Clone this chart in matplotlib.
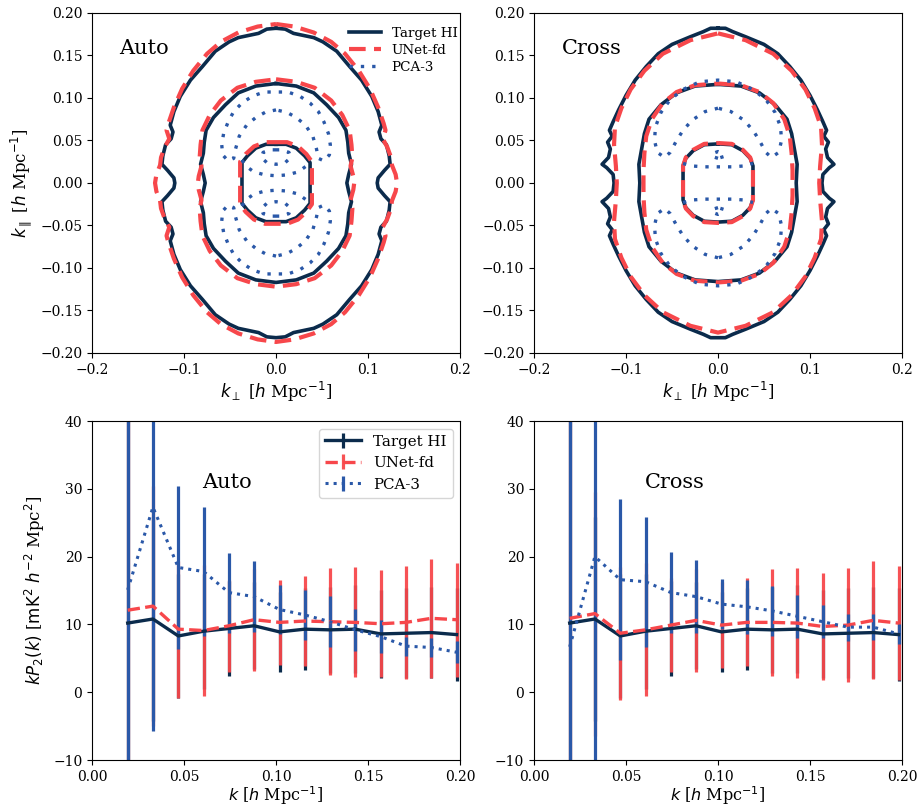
import matplotlib
matplotlib.use("Agg")
import matplotlib.pyplot as plt
import numpy as np

plt.rcParams["font.family"] = "serif"
plt.rcParams["font.serif"] = ["DejaVu Serif"]
plt.rcParams["mathtext.fontset"] = "dejavusans"

C_HI = "#0b2b4c"
C_UNET = "#f7474b"
C_PCA = "#2a58a8"

# ---- 2D power spectrum contours (first quadrant, mirrored when drawn) ----
# each list holds (k_perp, k_par) vertices, going from the k_par axis outwards
AUTO_HI = [
    [(0.000, 0.182), (0.010, 0.181), (0.019, 0.176), (0.041, 0.171), (0.051, 0.166),
     (0.066, 0.155), (0.080, 0.137), (0.093, 0.121), (0.104, 0.102), (0.111, 0.084),
     (0.115, 0.068), (0.112, 0.060), (0.114, 0.052), (0.120, 0.045), (0.123, 0.032),
     (0.124, 0.022), (0.118, 0.015), (0.111, 0.006), (0.110, 0.000)],
    [(0.000, 0.117), (0.022, 0.114), (0.041, 0.106), (0.055, 0.092), (0.068, 0.077),
     (0.076, 0.062), (0.078, 0.048), (0.079, 0.035), (0.082, 0.022), (0.079, 0.010),
     (0.077, 0.000)],
    [(0.000, 0.0455), (0.011, 0.0455), (0.022, 0.041), (0.031, 0.032), (0.037, 0.024),
     (0.037, 0.000)],
]
AUTO_UNET = [
    [(0.000, 0.187), (0.020, 0.184), (0.041, 0.177), (0.060, 0.166), (0.075, 0.152),
     (0.090, 0.132), (0.102, 0.111), (0.111, 0.089), (0.117, 0.070), (0.119, 0.062),
     (0.116, 0.052), (0.121, 0.042), (0.125, 0.030), (0.126, 0.021), (0.130, 0.010),
     (0.1315, 0.000)],
    [(0.000, 0.122), (0.022, 0.119), (0.042, 0.112), (0.060, 0.097), (0.072, 0.080),
     (0.080, 0.062), (0.082, 0.045), (0.083, 0.030), (0.081, 0.020), (0.084, 0.008),
     (0.085, 0.000)],
    [(0.000, 0.048), (0.012, 0.048), (0.024, 0.043), (0.033, 0.034), (0.039, 0.025),
     (0.039, 0.000)],
]
AUTO_PCA = [
    [(0.000, 0.107), (0.013, 0.107), (0.026, 0.102), (0.037, 0.094), (0.046, 0.084),
     (0.052, 0.072), (0.057, 0.058), (0.059, 0.045), (0.058, 0.033), (0.052, 0.026),
     (0.046, 0.029), (0.044, 0.040), (0.040, 0.055), (0.032, 0.068), (0.022, 0.077),
     (0.012, 0.083), (0.000, 0.086)],
    [(0.000, 0.0085), (0.012, 0.0095), (0.024, 0.013), (0.033, 0.020), (0.037, 0.027)],
    [(0.000, 0.022), (0.010, 0.024), (0.016, 0.030), (0.014, 0.036), (0.006, 0.039),
     (0.000, 0.039)],
]

CROSS_HI = [
    [(0.000, 0.182), (0.008, 0.182), (0.016, 0.178), (0.030, 0.172), (0.050, 0.163),
     (0.065, 0.152), (0.078, 0.137), (0.090, 0.121), (0.100, 0.103), (0.108, 0.086),
     (0.114, 0.072), (0.118, 0.062), (0.115, 0.055), (0.120, 0.048), (0.117, 0.040),
     (0.119, 0.030), (0.126, 0.022), (0.121, 0.018), (0.114, 0.010), (0.113, 0.000)],
    [(0.000, 0.116), (0.025, 0.114), (0.045, 0.106), (0.062, 0.092), (0.075, 0.075),
     (0.080, 0.058), (0.083, 0.040), (0.086, 0.022), (0.085, 0.000)],
    [(0.000, 0.046), (0.015, 0.045), (0.027, 0.038), (0.035, 0.029), (0.038, 0.020),
     (0.038, 0.000)],
]
CROSS_UNET = [
    [(0.000, 0.176), (0.030, 0.168), (0.060, 0.152), (0.080, 0.132), (0.095, 0.110),
     (0.105, 0.088), (0.112, 0.066), (0.113, 0.045), (0.111, 0.020), (0.110, 0.000)],
    [(0.000, 0.117), (0.025, 0.115), (0.045, 0.107), (0.060, 0.094), (0.072, 0.075),
     (0.078, 0.055), (0.080, 0.035), (0.081, 0.015), (0.081, 0.000)],
    [(0.000, 0.047), (0.015, 0.046), (0.027, 0.039), (0.035, 0.030), (0.038, 0.020),
     (0.038, 0.000)],
]
CROSS_PCA = [
    [(0.000, 0.121), (0.020, 0.119), (0.038, 0.110), (0.052, 0.098), (0.062, 0.083),
     (0.068, 0.066), (0.069, 0.050), (0.066, 0.036), (0.058, 0.030), (0.052, 0.036),
     (0.045, 0.050), (0.038, 0.062), (0.028, 0.074), (0.014, 0.084), (0.000, 0.088)],
    [(0.000, 0.019), (0.015, 0.019), (0.028, 0.020), (0.038, 0.023)],
    [(0.000, 0.037), (0.005, 0.035), (0.006, 0.031), (0.000, 0.029)],
]

# ---- quadrupole kP_2(k) ----
K = [0.0194, 0.0331, 0.0469, 0.0606, 0.0744, 0.0881, 0.1019,
     0.1156, 0.1294, 0.1431, 0.1569, 0.1706, 0.1844, 0.1981]

P2_HI = [10.2, 10.8, 8.3, 9.0, 9.4, 9.8, 8.9, 9.3, 9.2, 9.3, 8.6, 8.7, 8.8, 8.5]
P2_HI_ERR = [40.0, 15.0, 9.2, 8.5, 7.0, 6.4, 5.9, 6.0, 6.3, 6.5, 6.5, 6.6, 6.7, 6.8]

AUTO_P2_UNET = [12.1, 12.7, 9.3, 9.1, 9.8, 10.7, 10.3, 10.5, 10.4, 10.3, 10.1, 10.3, 10.9, 10.7]
AUTO_P2_UNET_ERR = [30.0, 17.7, 10.1, 9.7, 6.8, 7.5, 6.3, 6.7, 7.9, 8.1, 7.9, 8.3, 8.8, 8.4]
AUTO_P2_PCA = [15.1, 27.3, 18.4, 17.8, 14.7, 14.1, 12.2, 11.4, 10.4, 9.2, 8.2, 6.8, 6.6, 5.9]
AUTO_P2_PCA_ERR = [60.0, 33.0, 12.0, 9.5, 5.9, 5.2, 3.6, 3.7, 3.8, 3.1, 2.4, 1.4, 1.4, 1.6]

CROSS_P2_UNET = [10.9, 11.6, 8.7, 9.2, 9.9, 10.6, 9.9, 10.3, 10.3, 10.2, 9.7, 9.9, 10.6, 10.2]
CROSS_P2_UNET_ERR = [30.0, 18.0, 9.8, 9.8, 6.9, 7.6, 6.4, 6.5, 7.9, 8.1, 7.9, 8.4, 8.7, 8.4]
CROSS_P2_PCA = [6.7, 20.0, 16.6, 16.3, 14.7, 14.1, 13.0, 12.6, 12.0, 11.2, 10.4, 9.6, 9.6, 8.6]
CROSS_P2_PCA_ERR = [60.0, 40.0, 11.9, 9.6, 6.0, 5.4, 3.7, 4.0, 3.7, 3.2, 2.4, 2.0, 1.9, 1.5]


def mirror_closed(quarter):
    q = np.array(quarter)
    x, y = q[:, 0], q[:, 1]
    xs = np.concatenate([x, x[::-1], -x, -x[::-1]])
    ys = np.concatenate([y, -y[::-1], -y, y[::-1]])
    return xs, ys


def mirror_halves(quarter):
    q = np.array(quarter)
    x, y = q[:, 0], q[:, 1]
    xs = np.concatenate([-x[::-1], x])
    ys = np.concatenate([y[::-1], y])
    return [(xs, ys), (xs, -ys)]


def contour_panel(ax, hi, unet, pca, title):
    for i, quarter in enumerate(hi):
        xs, ys = mirror_closed(quarter)
        ax.plot(xs, ys, color=C_HI, lw=2.6, label="Target HI" if i == 0 else None)
    for i, quarter in enumerate(unet):
        xs, ys = mirror_closed(quarter)
        ax.plot(xs, ys, color=C_UNET, lw=3.0, ls=(0, (4, 2)),
                label="UNet-fd" if i == 0 else None)
    first = True
    for quarter in pca:
        for xs, ys in mirror_halves(quarter):
            ax.plot(xs, ys, color=C_PCA, lw=2.4, ls=(0, (1, 2.4)),
                    label="PCA-3" if first else None)
            first = False
    ax.set_xlim(-0.2, 0.2)
    ax.set_ylim(-0.2, 0.2)
    ax.set_xticks(np.arange(-0.2, 0.21, 0.1))
    ax.set_yticks(np.arange(-0.2, 0.21, 0.05))
    ax.set_xlabel(r"$k_\perp$ [$h$ Mpc$^{-1}$]", fontsize=12, labelpad=2)
    ax.text(0.075, 0.895, title, transform=ax.transAxes, fontsize=15, va="center")


def p2_panel(ax, unet, unet_err, pca, pca_err, title):
    ax.errorbar(K, P2_HI, yerr=P2_HI_ERR, color=C_HI, lw=2.4, elinewidth=2.3,
                label="Target HI")
    ax.errorbar(K, unet, yerr=unet_err, color=C_UNET, ecolor=(0.97, 0.28, 0.29, 0.94),
                lw=2.4, ls="--", elinewidth=2.3, label="UNet-fd")
    ax.errorbar(K, pca, yerr=pca_err, color=C_PCA, ecolor=C_PCA,
                lw=2.2, ls=":", elinewidth=2.3, label="PCA-3")
    ax.set_xlim(0, 0.2)
    ax.set_ylim(-10, 40)
    ax.set_xticks(np.arange(0, 0.201, 0.05))
    ax.set_xlabel(r"$k$ [$h$ Mpc$^{-1}$]", fontsize=11.5, labelpad=0.5)
    ax.text(0.30, 0.82, title, transform=ax.transAxes, fontsize=15, va="center")


fig = plt.figure(figsize=(9.21, 8.1), dpi=100)
ax1 = fig.add_axes([0.0999, 0.5642, 0.3996, 0.4198])
ax2 = fig.add_axes([0.5798, 0.5642, 0.3996, 0.4198])
ax3 = fig.add_axes([0.0999, 0.0617, 0.3996, 0.4185])
ax4 = fig.add_axes([0.5798, 0.0617, 0.3996, 0.4185])

contour_panel(ax1, AUTO_HI, AUTO_UNET, AUTO_PCA, "Auto")
contour_panel(ax2, CROSS_HI, CROSS_UNET, CROSS_PCA, "Cross")
ax1.set_ylabel(r"$k_\parallel$ [$h$ Mpc$^{-1}$]", fontsize=12)
ax1.legend(loc="upper right", bbox_to_anchor=(1.008, 0.976), frameon=False,
           fontsize=9.7, handlelength=2.4, labelspacing=0.3, borderaxespad=0)

p2_panel(ax3, AUTO_P2_UNET, AUTO_P2_UNET_ERR, AUTO_P2_PCA, AUTO_P2_PCA_ERR, "Auto")
p2_panel(ax4, CROSS_P2_UNET, CROSS_P2_UNET_ERR, CROSS_P2_PCA, CROSS_P2_PCA_ERR, "Cross")
ax3.set_ylabel(r"$kP_2(k)$ [$\mathrm{mK}^2$ $h^{-2}$ Mpc$^2$]", fontsize=12)
ax3.legend(loc="upper right", fontsize=10.8, handlelength=2.4)

for ax in (ax1, ax2, ax3, ax4):
    ax.tick_params(labelsize=10)

fig.savefig("out.png", dpi=100)
